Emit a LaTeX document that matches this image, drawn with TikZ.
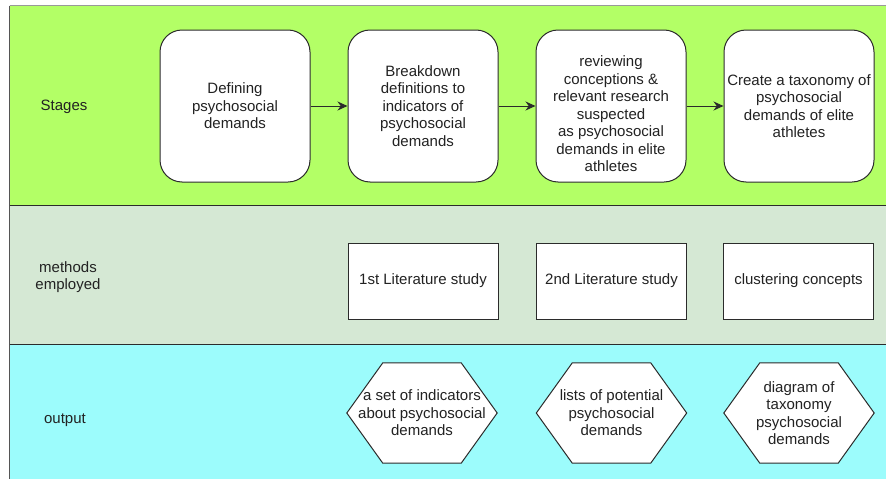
\documentclass[tikz,border=0pt]{standalone}
\usepackage{fontspec}
\setmainfont{Liberation Sans}
\usetikzlibrary{arrows.meta}
\definecolor{stagecol}{HTML}{B3FF66}
\definecolor{methodcol}{HTML}{D5E8D4}
\definecolor{outcol}{HTML}{9CFCFC}
\definecolor{linecol}{HTML}{2B2B2B}
\definecolor{txtcol}{HTML}{222222}
\tikzset{
  base/.style={font=\fontsize{15}{17.5}\selectfont, text=txtcol, align=center, inner sep=0pt},
  stagebox/.style={base, draw=linecol, line width=1pt, fill=white, rounded corners=22pt, minimum width=150pt, minimum height=152pt},
  methodbox/.style={base, draw=linecol, line width=1pt, fill=white, minimum width=150pt, minimum height=76pt},
  hexbox/.style={base, minimum width=150pt, minimum height=100pt},
  lanelabel/.style={base},
  flow/.style={draw=linecol, line width=1pt, -{Stealth[length=10pt,width=9pt]}},
  hexline/.style={draw=linecol, line width=1pt, fill=white}
}
\begin{document}
\begin{tikzpicture}[x=1pt,y=-1pt]
\useasboundingbox (0,0) rectangle (886,479);
% lanes
\fill[stagecol] (9.5,5.5) rectangle (892,205.5);
\fill[methodcol] (9.5,205.5) rectangle (892,344);
\fill[outcol] (9.5,344) rectangle (892,485);
\draw[gray!80, line width=1.2pt] (9.5,5.5) -- (892,5.5);
\draw[linecol!80, line width=1.2pt] (9.5,5.5) -- (9.5,485);
\draw[linecol, line width=1pt] (9.5,205.5) -- (892,205.5);
\draw[linecol, line width=1pt] (9.5,344) -- (892,344);
% lane labels
\node[lanelabel] (l1) at (64,107) {Stages};
\node[lanelabel] (l2) at (68,277) {methods\\employed};
\node[lanelabel] (l3) at (65,420) {output};
% stages
\node[stagebox] (s1) at (235,106) {Defining\\psychosocial\\demands};
\node[stagebox] (s2) at (423,106) {Breakdown\\definitions to\\indicators of\\psychosocial\\demands};
\node[stagebox] (s3) at (611,106) {};
\node[base] (s3t) at (611,114) {reviewing\\conceptions \&\\relevant research\\suspected\\as psychosocial\\demands in elite\\athletes};
\node[stagebox] (s4) at (799,106) {Create a taxonomy of\\psychosocial\\demands of elite\\athletes};
\draw[flow] (s1) -- (s2);
\draw[flow] (s2) -- (s3);
\draw[flow] (s3) -- (s4);
% methods
\node[methodbox] (m1) at (423,281) {1st Literature study};
\node[methodbox] (m2) at (611.5,281) {2nd Literature study};
\node[methodbox] (m3) at (798.5,281) {clustering concepts};
% outputs
\node[hexbox] (o1) at (422,413) {};
\node[hexbox] (o2) at (611.5,413) {};
\node[hexbox] (o3) at (799,413) {};
\foreach \h in {o1,o2,o3}{
  \draw[hexline] (\h.west) -- ([xshift=36pt]\h.north west) -- ([xshift=-36pt]\h.north east) -- (\h.east) -- ([xshift=-36pt]\h.south east) -- ([xshift=36pt]\h.south west) -- cycle;
}
\node[base] (t1) at (o1) {a set of indicators\\about psychosocial\\demands};
\node[base] (t2) at (o2) {lists of potential\\psychosocial\\demands};
\node[base] (t3) at (o3) {diagram of\\taxonomy\\psychosocial\\demands};
\end{tikzpicture}
\end{document}
